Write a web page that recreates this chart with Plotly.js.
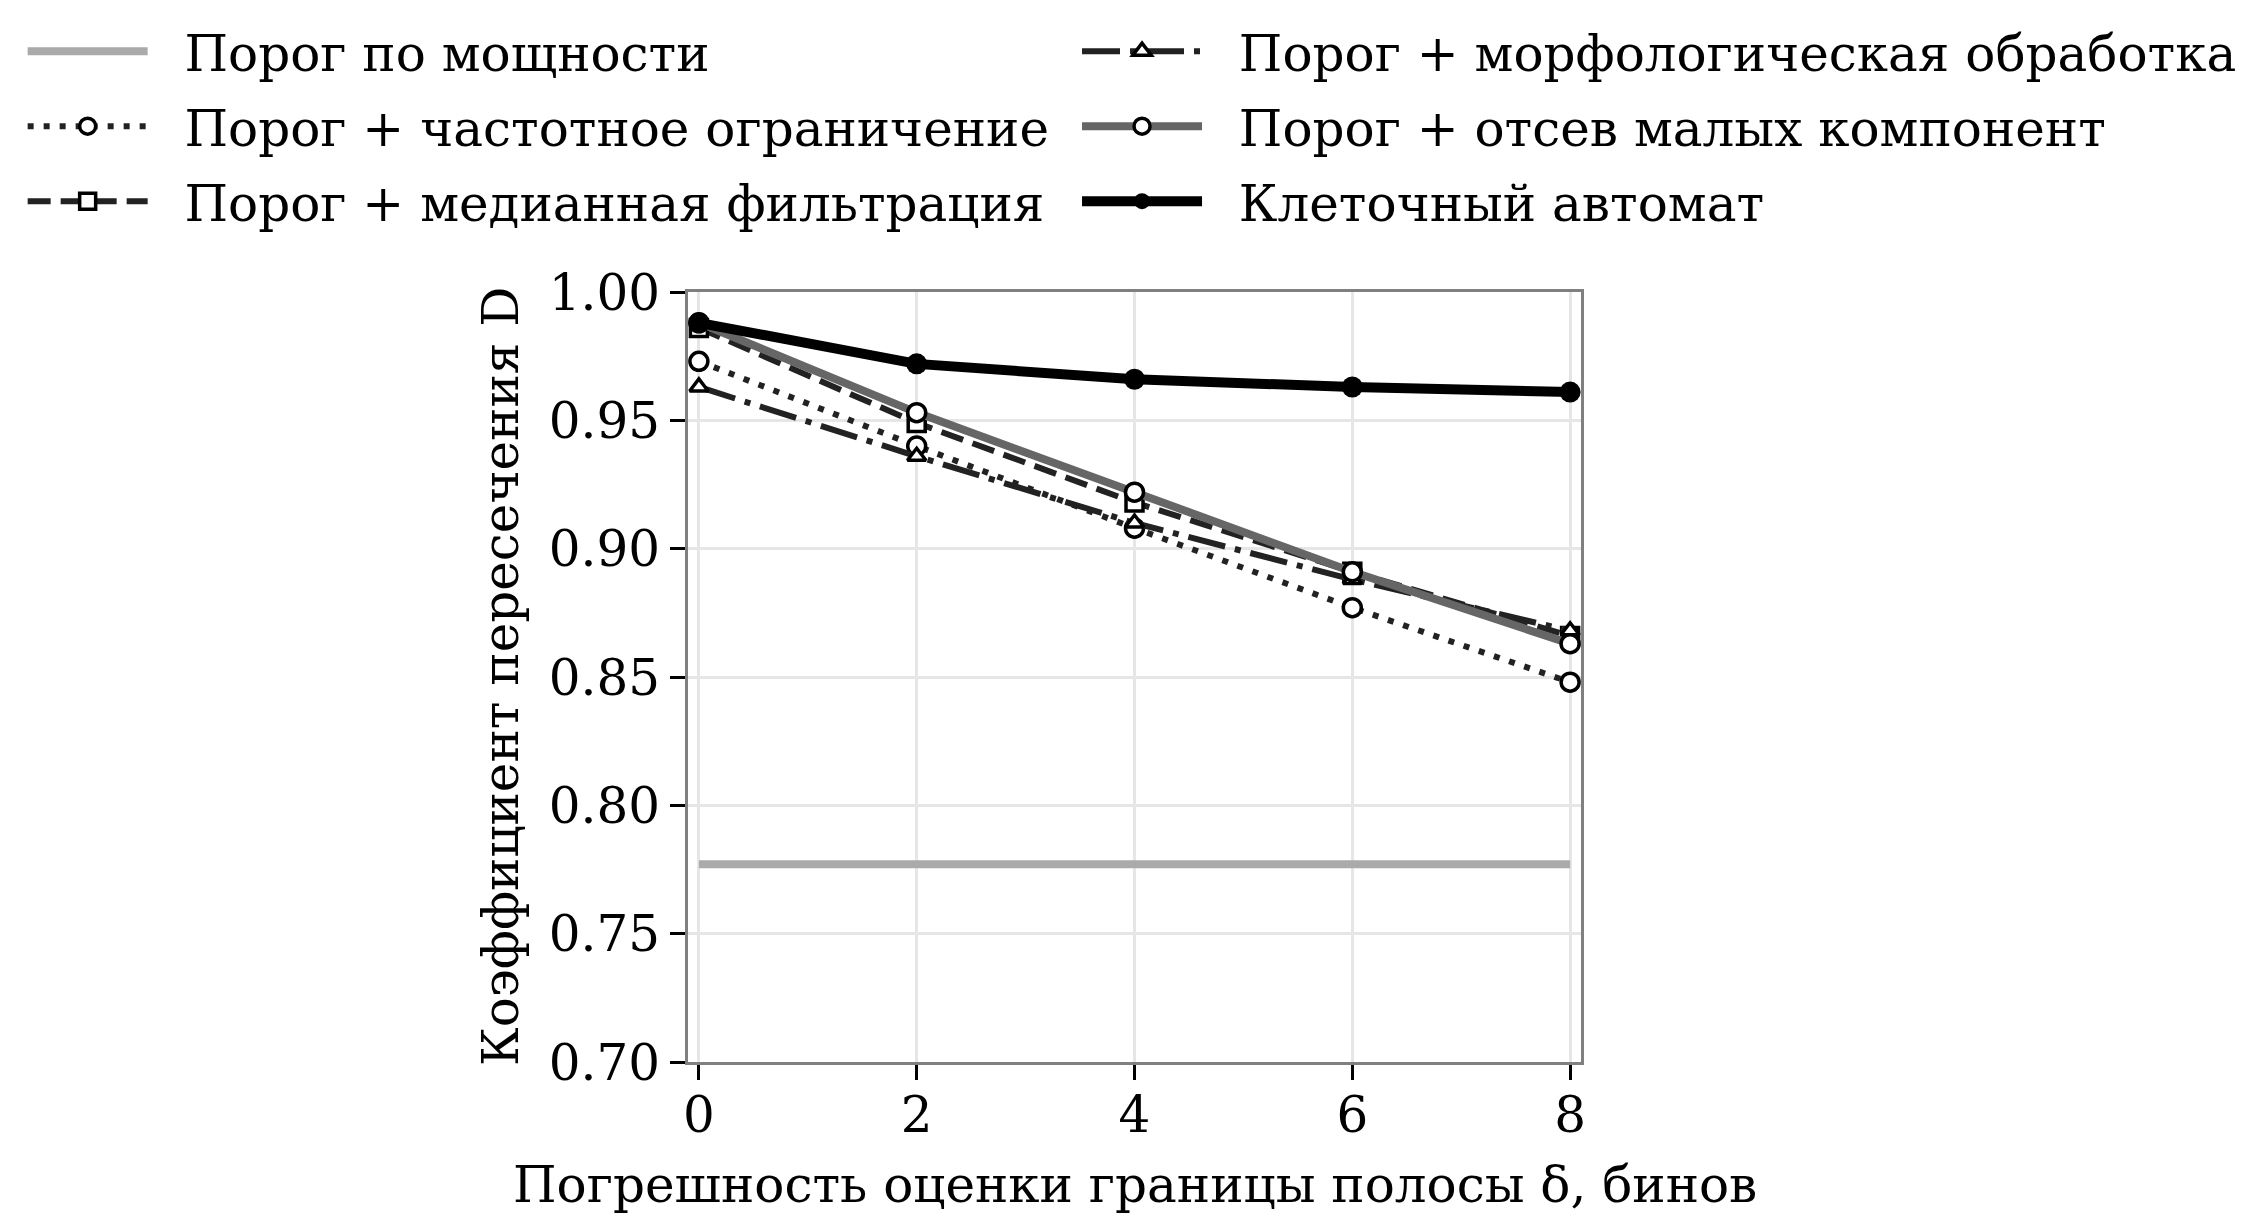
<!DOCTYPE html>
<html>
<head>
<meta charset="utf-8">
<script src="https://cdn.plot.ly/plotly-3.0.1.min.js"></script>
<style>
  body { margin: 0; background: #fff; }
  #chart { width: 2266px; height: 1220px; }
</style>
</head>
<body>
<div id="chart"></div>
<script>
// error of band edge estimate, bins
const delta = [0, 2, 4, 6, 8];

// Dice coefficient per method
const powerThreshold = [0.777, 0.777, 0.777, 0.777, 0.777];
const freqLimit = [0.973, 0.940, 0.908, 0.877, 0.848];
const medianFilter = [0.986, 0.949, 0.918, 0.891, 0.866];
const morphology = [0.963, 0.936, 0.910, 0.888, 0.868];
const smallComponents = [0.988, 0.953, 0.922, 0.891, 0.863];
const cellularAutomaton = [0.988, 0.972, 0.966, 0.963, 0.961];

const names = [
  'Порог по мощности',
  'Порог + частотное ограничение',
  'Порог + медианная фильтрация',
  'Порог + морфологическая обработка',
  'Порог + отсев малых компонент',
  'Клеточный автомат'
];

const xTitle = 'Погрешность оценки границы полосы δ, бинов';
const yTitle = 'Коэффициент пересечения D';

const yTicks = [0.70, 0.75, 0.80, 0.85, 0.90, 0.95, 1.00];
const xTicks = [0, 2, 4, 6, 8];

const FONT = '"DejaVu Serif", serif';
const GAP = '\u00a0\u00a0';  // pushes legend text away from the symbol

function openMarker(symbol, size) {
  return { symbol: symbol, size: size, color: '#ffffff', line: { color: '#000000', width: 3.5 } };
}

const traces = [
  {
    x: delta, y: powerThreshold, name: names[0], mode: 'lines',
    line: { color: '#aaaaaa', width: 8 }, legend: 'legend'
  },
  {
    x: delta, y: freqLimit, name: names[1], mode: 'lines+markers',
    line: { color: '#222222', width: 6, dash: '6px,10px' },
    marker: openMarker('circle', 18), legend: 'legend'
  },
  {
    x: delta, y: medianFilter, name: names[2], mode: 'lines+markers',
    line: { color: '#222222', width: 6, dash: '23px,10px' },
    marker: openMarker('square', 17), legend: 'legend'
  },
  {
    x: delta, y: morphology, name: names[3], mode: 'lines+markers',
    line: { color: '#222222', width: 6, dash: '38px,10px,6px,10px' },
    marker: openMarker('triangle-up', 16), legend: 'legend2'
  },
  {
    x: delta, y: smallComponents, name: names[4], mode: 'lines+markers',
    line: { color: '#666666', width: 8 },
    marker: openMarker('circle', 18), legend: 'legend2'
  },
  {
    x: delta, y: cellularAutomaton, name: names[5], mode: 'lines+markers',
    line: { color: '#000000', width: 10 },
    marker: { symbol: 'circle', size: 21, color: '#000000' }, legend: 'legend2'
  }
];
traces.forEach((t, i) => {
  t.cliponaxis = false;
  t.legendgroup = 'g' + i;
  t.name = GAP + t.name;
});

const legendBase = {
  orientation: 'v',
  xref: 'container', yref: 'container',
  xanchor: 'left', yanchor: 'top',
  bgcolor: 'rgba(0,0,0,0)', borderwidth: 0,
  font: { family: FONT, size: 50, color: '#000000' },
  itemwidth: 120,
  tracegroupgap: 7,
  traceorder: 'grouped'
};

const axisBase = {
  ticks: 'outside', ticklen: 15, tickwidth: 3, tickcolor: '#000000',
  showgrid: true, gridcolor: '#e6e6e6', gridwidth: 3,
  zeroline: false, automargin: false,
  showline: true, linecolor: '#808080', linewidth: 3, mirror: true,
  tickfont: { family: FONT, size: 50, color: '#000000' }
};

const layout = {
  width: 2266,
  height: 1220,
  paper_bgcolor: '#ffffff',
  plot_bgcolor: '#ffffff',
  font: { family: FONT, size: 50, color: '#000000' },
  margin: { l: 688, r: 685, t: 292, b: 158, autoexpand: false },
  showlegend: true,
  legend: Object.assign({}, legendBase, { x: 0.01, y: 0.99 }),
  legend2: Object.assign({}, legendBase, { x: 0.4753, y: 0.99 }),
  xaxis: Object.assign({}, axisBase, {
    range: [-0.1, 8.1],
    tickvals: xTicks,
    ticktext: xTicks.map(String),
    ticklabelstandoff: -8
  }),
  yaxis: Object.assign({}, axisBase, {
    range: [0.70, 1.00],
    tickvals: yTicks,
    ticktext: yTicks.map(v => v.toFixed(2))
  }),
  // axis titles as annotations: the built-in ones drift without automargin
  annotations: [
    {
      text: xTitle, xref: 'paper', yref: 'paper', x: 0.5, y: -0.16,
      xanchor: 'center', yanchor: 'middle', showarrow: false,
      font: { family: FONT, size: 50, color: '#000000' }
    },
    {
      text: yTitle, xref: 'paper', yref: 'paper', x: -0.2094, y: 0.5,
      xanchor: 'center', yanchor: 'middle', showarrow: false, textangle: -90,
      font: { family: FONT, size: 50, color: '#000000' }
    }
  ]
};

Plotly.newPlot('chart', traces, layout, { staticPlot: true });
</script>
</body>
</html>
